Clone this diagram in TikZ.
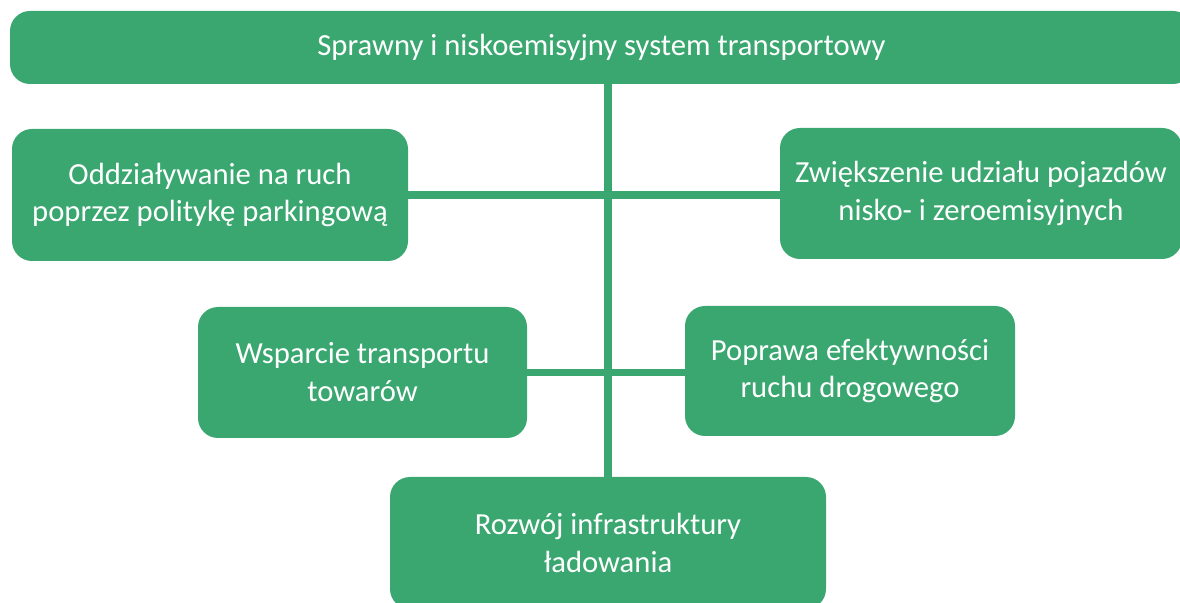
\documentclass[tikz,border=0pt]{standalone}
\usepackage{fontspec}
\setmainfont{Carlito}
\definecolor{zielony}{RGB}{58,167,112}
\begin{document}
\begin{tikzpicture}[
		x=0.025cm, y=-0.025cm,
		box/.style={rectangle, fill=zielony, rounded corners=0.5cm, text=white, align=center, inner sep=0pt, font=\fontsize{21.8}{27}\selectfont},
		link/.style={draw=zielony, line width=5pt}
		]
		
		\useasboundingbox (0,0) rectangle (1180,603);
		\clip (0,0) rectangle (1180,603);
		
		\node[box, minimum width=1183*0.025cm, minimum height=73*0.025cm] (top) at (601.5,47.5) {Sprawny i niskoemisyjny system transportowy};
		
		\node[box, minimum width=396*0.025cm, minimum height=132*0.025cm] (park) at (210,195) {Oddziaływanie na ruch\\poprzez politykę parkingową};
		\node[box, minimum width=402*0.025cm, minimum height=131*0.025cm] (zero) at (981,193.5) {Zwiększenie udziału pojazdów\\nisko- i zeroemisyjnych};
		
		\node[box, minimum width=329*0.025cm, minimum height=131*0.025cm] (tow) at (362.5,372.5) {Wsparcie transportu\\towarów};
		\node[box, minimum width=330*0.025cm, minimum height=130*0.025cm] (ruch) at (850,371) {Poprawa efektywności\\ruchu drogowego};
		
		\node[box, minimum width=436*0.025cm, minimum height=132*0.025cm] (lad) at (608,543) {Rozwój infrastruktury\\ładowania};
		
		\draw[link] (top.south -| lad.north) -- (lad.north);
		\draw[link] (park.east) -- (park.east -| zero.west);
		\draw[link] (tow.east) -- (tow.east -| ruch.west);
		
	\end{tikzpicture}
\end{document}
